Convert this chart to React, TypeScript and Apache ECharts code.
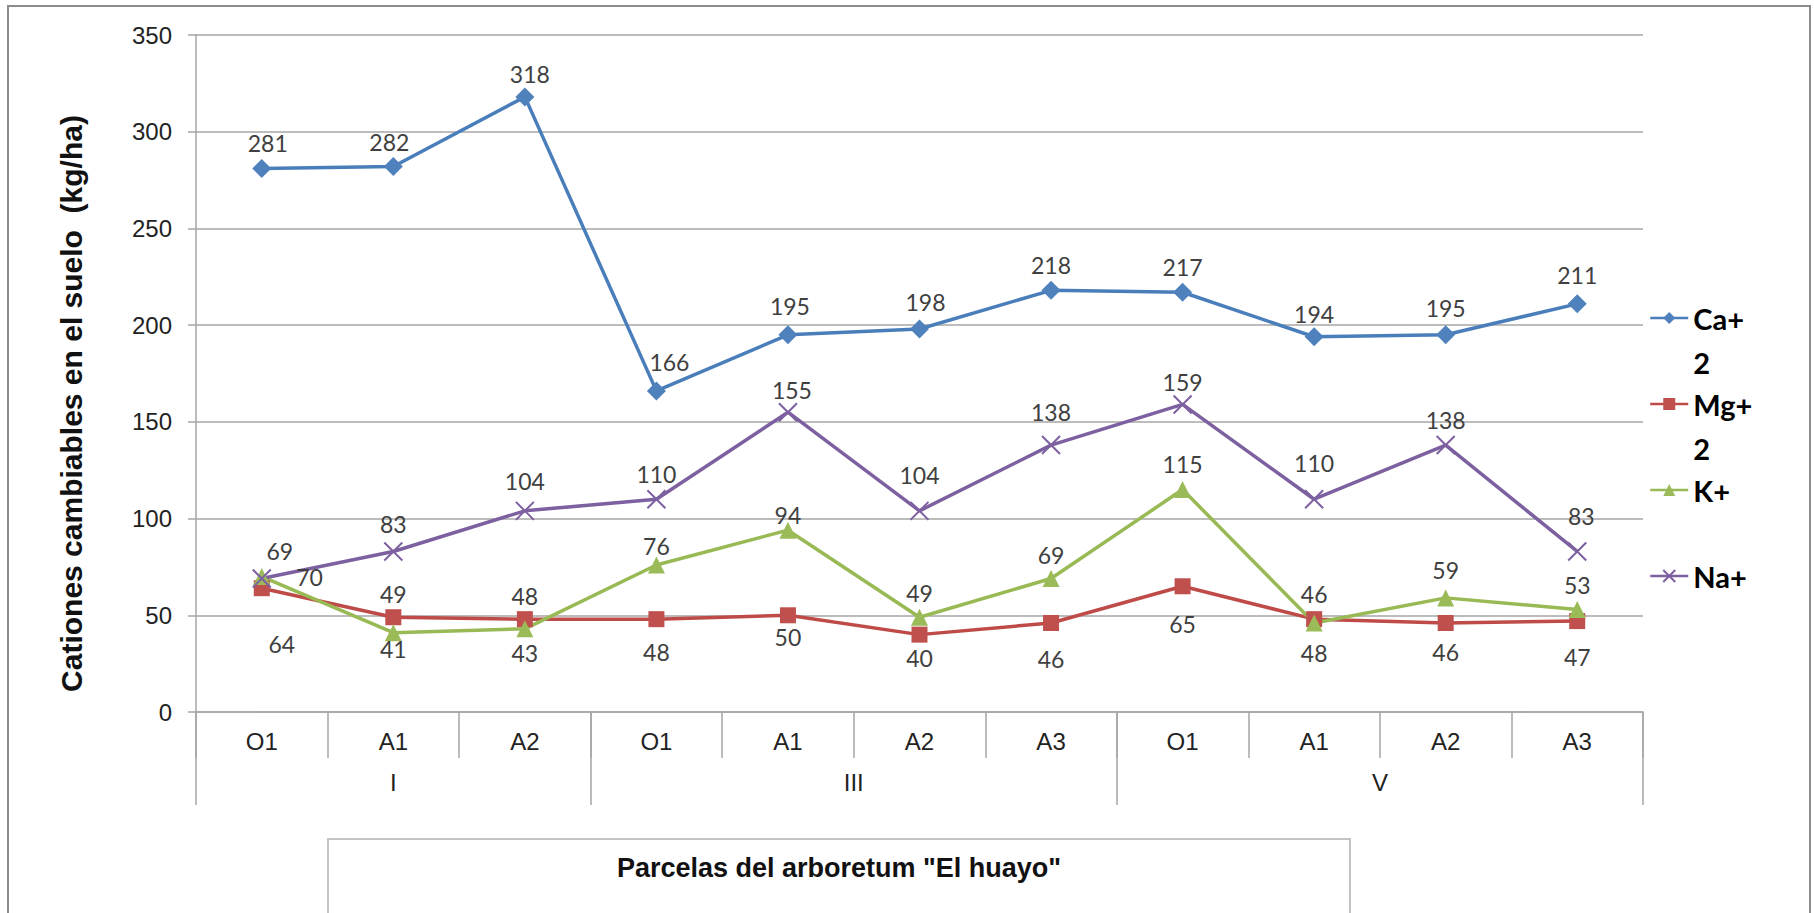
import React, { useEffect, useRef } from "react";
import * as echarts from "echarts";

// Soil horizons sampled in each plot of the arboretum
const horizons = ["O1", "A1", "A2", "O1", "A1", "A2", "A3", "O1", "A1", "A2", "A3"];
const plots = ["I", "III", "V"];
const plotSizes = [3, 4, 4];

// Exchangeable cations (kg/ha)
const calcio = [281, 282, 318, 166, 195, 198, 218, 217, 194, 195, 211];
const magnesio = [64, 49, 48, 48, 50, 40, 46, 65, 48, 46, 47];
const potasio = [70, 41, 43, 76, 94, 49, 69, 115, 46, 59, 53];
const sodio = [69, 83, 104, 110, 155, 104, 138, 159, 110, 138, 83];

// Where each value label sits relative to its marker
const calcioLabelPos = ["top", "top", "top", "top", "top", "top", "top", "top", "top", "top", "top"];
const magnesioLabelPos = ["bottom", "top", "top", "bottom", "bottom", "bottom", "bottom", "bottom", "bottom", "bottom", "bottom"];
const potasioLabelPos = ["right", "bottom", "bottom", "top", "top", "top", "top", "top", "top", "top", "top"];
const sodioLabelPos = ["top", "top", "top", "top", "top", "top", "top", "top", "top", "top", "top"];

// Small nudges so crowded labels do not collide
const calcioLabelShift = [[6, 0], [-4, 0], [5, 2], [13, -4], [2, -4], [6, -2], [0, 0], [0, 0], [0, 2], [0, -2], [0, -4]];
const magnesioLabelShift = [[20, 32], [0, 0], [0, 0], [0, 9], [0, -2], [0, 0], [0, 12], [0, 14], [0, 10], [0, 5], [0, 12]];
const potasioLabelShift = [[22, 0], [0, -8], [0, 0], [0, 5], [0, 9], [0, 0], [0, 0], [0, -2], [0, -5], [0, -4], [0, 0]];
const sodioLabelShift = [[18, -2], [0, -2], [0, -4], [0, 0], [4, 3], [0, -10], [0, -8], [0, 3], [0, -11], [0, 0], [4, -10]];

const Y_MIN = 0;
const Y_MAX = 350;
const Y_STEP = 50;

const AXIS_GRAY = "#a6a6a6";
const LABEL_FONT = "Lato, 'Open Sans', sans-serif";
const AXIS_FONT = "'Liberation Sans', Arial, sans-serif";

// Second category level: half-step slots so group names can sit between horizons
function buildPlotLevel() {
  const slots = horizons.length * 2 + 1;
  const names: string[] = new Array(slots).fill("");
  const bounds: number[] = [0];
  let start = 0;
  plots.forEach((p, i) => {
    const end = start + plotSizes[i];
    names[start + end] = p; // slot of the group centre, counted in half steps
    bounds.push(end * 2);
    start = end;
  });
  return { names, bounds };
}

function makeSeries(
  name: string,
  values: number[],
  positions: string[],
  shifts: number[][],
  color: string,
  lineColor: string,
  symbol: string,
  symbolSize: number,
  extraItem: Record<string, unknown> = {}
) {
  return {
    name,
    type: "line",
    data: values.map((v, i) => ({
      value: v,
      label: { position: positions[i], offset: shifts[i] },
    })),
    symbol,
    symbolSize,
    lineStyle: { color: lineColor, width: 3.5 },
    itemStyle: { color, ...extraItem },
    label: {
      show: true,
      formatter: "{c}",
      distance: 4,
      fontFamily: LABEL_FONT,
      fontSize: 23,
      color: "#404040",
    },
    emphasis: { disabled: true },
  };
}

export default function App() {
  const ref = useRef<HTMLDivElement>(null);

  useEffect(() => {
    if (!ref.current) return;
    const chart = echarts.init(ref.current, undefined, { renderer: "svg" });
    const level2 = buildPlotLevel();

    // Legend names wrap like the original: the charge drops to a second line
    const legendText: Record<string, string[]> = {
      "Ca+2": ["", "Ca+", "2"],
      "Mg+2": ["", "Mg+", "2"],
      "K+": ["", "K+", ""],
      "Na+": ["", "Na+", ""],
    };

    chart.setOption({
      animation: false,
      backgroundColor: "#ffffff",
      grid: { left: 196, top: 35, width: 1447, height: 677 },
      legend: {
        orient: "vertical",
        left: 1649,
        top: 252,
        padding: 0,
        itemGap: -46,
        itemWidth: 38,
        itemHeight: 15,
        selectedMode: false,
        data: ["Ca+2", "Mg+2", "K+", "Na+"],
        formatter: (n: string) => (legendText[n] || [n]).join("\n"),
        textStyle: {
          fontFamily: LABEL_FONT,
          fontWeight: "bold",
          fontSize: 29,
          lineHeight: 44,
          color: "#000000",
        },
        lineStyle: { width: 2.5 },
      },
      xAxis: [
        {
          type: "category",
          data: horizons,
          boundaryGap: true,
          axisLine: { show: true, lineStyle: { color: AXIS_GRAY, width: 1.5 } },
          axisTick: { show: true, interval: 0, length: 46, lineStyle: { color: AXIS_GRAY, width: 1.5 } },
          axisLabel: { interval: 0, margin: 17, fontFamily: AXIS_FONT, fontSize: 24, color: "#222" },
          splitLine: { show: false },
        },
        {
          type: "category",
          position: "bottom",
          data: level2.names,
          boundaryGap: false,
          axisLine: { show: false },
          axisTick: {
            show: true,
            interval: (i: number) => level2.bounds.includes(i),
            length: 93,
            lineStyle: { color: AXIS_GRAY, width: 1.5 },
          },
          axisLabel: { interval: 0, margin: 58, fontFamily: AXIS_FONT, fontSize: 24, color: "#222" },
          splitLine: { show: false },
        },
      ],
      yAxis: {
        type: "value",
        min: Y_MIN,
        max: Y_MAX,
        interval: Y_STEP,
        name: "Cationes cambiables en el suelo  (kg/ha)",
        nameLocation: "middle",
        nameRotate: 90,
        nameGap: 110,
        nameTextStyle: {
          fontFamily: AXIS_FONT,
          fontWeight: "bold",
          fontSize: 30,
          color: "#111",
          padding: [0, 60, 0, 0],
        },
        axisLine: { show: true, lineStyle: { color: AXIS_GRAY, width: 1.5 } },
        axisTick: { show: true, length: 8, lineStyle: { color: AXIS_GRAY, width: 1.5 } },
        axisLabel: { margin: 24, fontFamily: AXIS_FONT, fontSize: 24, color: "#222" },
        splitLine: { show: true, lineStyle: { color: AXIS_GRAY, width: 1.5 } },
      },
      graphic: [
        {
          type: "rect",
          shape: { x: 8, y: 6, width: 1802, height: 960 },
          style: { fill: "none", stroke: "#8c8c8c", lineWidth: 2 },
          silent: true,
          z: -10,
        },
        {
          type: "rect",
          shape: { x: 328, y: 839, width: 1022, height: 120 },
          style: { fill: "#ffffff", stroke: "#c4c4c4", lineWidth: 2 },
          silent: true,
        },
        {
          type: "text",
          x: 839,
          y: 868,
          style: {
            text: 'Parcelas del arboretum "El huayo"',
            fontFamily: AXIS_FONT,
            fontWeight: "bold",
            fontSize: 27,
            fill: "#111",
            align: "center",
            verticalAlign: "middle",
          },
          silent: true,
        },
      ],
      series: [
        makeSeries("Ca+2", calcio, calcioLabelPos, calcioLabelShift, "#4F81BD", "#4A7EBB", "diamond", 19),
        makeSeries("Mg+2", magnesio, magnesioLabelPos, magnesioLabelShift, "#C0504D", "#BE4B48", "rect", 16),
        makeSeries("K+", potasio, potasioLabelPos, potasioLabelShift, "#9BBB59", "#98B954", "triangle", 17),
        makeSeries("Na+", sodio, sodioLabelPos, sodioLabelShift, "#7D60A0", "#7D60A0", "path://M0,0L10,10M10,0L0,10", 18, {
          borderColor: "#7D60A0",
          borderWidth: 2,
        }),
      ],
    });

    return () => chart.dispose();
  }, []);

  return (
    <div
      ref={ref}
      style={{ position: "absolute", left: 0, top: 0, width: 1814, height: 913 }}
    />
  );
}
